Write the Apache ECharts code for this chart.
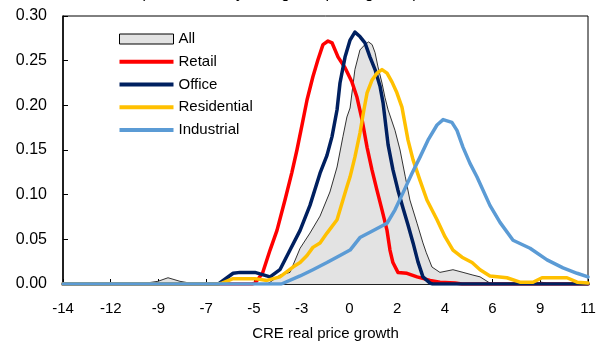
<!DOCTYPE html>
<html>
<head>
<meta charset="utf-8">
<script src="https://cdn.jsdelivr.net/npm/echarts@6/dist/echarts.min.js"></script>
<style>
  html, body { margin: 0; padding: 0; background: #fff; }
  #chart { width: 603px; height: 343px; }
</style>
</head>
<body>
<div id="chart"></div>
<script>
// Kernel density of CRE real price growth, by sector: [growth, density]
const allSectors = [
  [-14, 0], [-10.2, 0], [-10.05, 0.001], [-9.48, 0.003], [-9.0, 0.007], [-8.43, 0.003],
  [-7.95, 0.001], [-7.8, 0], [-4.3, 0], [-4.14, 0.002], [-3.67, 0.010], [-3.19, 0.013],
  [-2.71, 0.040], [-2.24, 0.057], [-1.76, 0.076], [-1.29, 0.103], [-0.95, 0.131],
  [-0.67, 0.165], [-0.48, 0.187], [-0.33, 0.197], [-0.10, 0.240], [0.14, 0.262],
  [0.38, 0.268], [0.55, 0.271], [0.72, 0.268], [0.86, 0.259], [1.0, 0.243], [1.19, 0.225],
  [1.33, 0.209], [1.48, 0.195], [1.81, 0.172], [2.05, 0.150], [2.30, 0.120], [2.52, 0.094],
  [2.86, 0.068], [3.14, 0.046], [3.30, 0.035], [3.57, 0.019], [3.95, 0.013], [4.57, 0.016],
  [5.05, 0.013], [5.52, 0.010], [5.86, 0.008], [6.33, 0.001], [6.5, 0], [8.5, 0],
  [8.8, 0.002], [9.1, 0], [11, 0]
];
const retail = [
  [-14, 0], [-5.0, 0], [-4.86, 0.001], [-4.5, 0.012], [-4.14, 0.038], [-3.81, 0.060],
  [-3.43, 0.094], [-3.1, 0.125], [-2.86, 0.150], [-2.6, 0.180], [-2.38, 0.206],
  [-2.1, 0.232], [-1.86, 0.251], [-1.62, 0.268], [-1.38, 0.272], [-1.19, 0.270],
  [-0.90, 0.254], [-0.57, 0.242], [-0.24, 0.226], [0.0, 0.209], [0.24, 0.184],
  [0.48, 0.153], [0.71, 0.128], [0.95, 0.105], [1.19, 0.083], [1.43, 0.060],
  [1.57, 0.038], [1.71, 0.024], [1.95, 0.013], [2.38, 0.012], [2.86, 0.008],
  [3.48, 0.004], [3.95, 0.002], [4.67, 0.001], [5.0, 0], [11, 0]
];
const office = [
  [-14, 0], [-6.6, 0], [-6.52, 0.001], [-5.9, 0.012], [-5.57, 0.013], [-4.86, 0.013],
  [-4.14, 0.008], [-3.67, 0.016], [-3.19, 0.038], [-2.71, 0.060], [-2.24, 0.088],
  [-1.76, 0.124], [-1.43, 0.144], [-1.19, 0.165], [-0.95, 0.195], [-0.81, 0.225],
  [-0.57, 0.254], [-0.33, 0.273], [-0.10, 0.282], [0.14, 0.277], [0.38, 0.270],
  [0.62, 0.254], [0.86, 0.240], [1.10, 0.221], [1.24, 0.203], [1.48, 0.156],
  [1.71, 0.128], [1.95, 0.105], [2.19, 0.085], [2.43, 0.066], [2.67, 0.046],
  [2.90, 0.025], [3.14, 0.008], [3.48, 0.001], [3.6, 0], [11, 0]
];
const residential = [
  [-14, 0], [-6.6, 0], [-6.43, 0.001], [-5.90, 0.006], [-4.86, 0.006], [-4.29, 0.004],
  [-3.67, 0.008], [-3.05, 0.019], [-2.71, 0.024], [-2.38, 0.032], [-2.10, 0.041],
  [-1.76, 0.046], [-1.43, 0.057], [-0.95, 0.072], [-0.67, 0.094], [-0.48, 0.109],
  [-0.33, 0.120], [-0.10, 0.142], [0.14, 0.169], [0.33, 0.195], [0.48, 0.214],
  [0.71, 0.228], [0.95, 0.236], [1.19, 0.240], [1.43, 0.236], [1.67, 0.226],
  [1.90, 0.214], [2.14, 0.198], [2.43, 0.161], [2.67, 0.139], [3.0, 0.116],
  [3.33, 0.094], [3.81, 0.072], [4.19, 0.053], [4.57, 0.038], [5.0, 0.030],
  [5.48, 0.024], [5.86, 0.016], [6.33, 0.009], [7.14, 0.007], [7.76, 0.002],
  [8.38, 0.002], [8.81, 0.007], [10.0, 0.007], [10.48, 0.002], [11, 0.001]
];
const industrial = [
  [-14, 0], [-3.6, 0], [-3.52, 0.001], [-2.71, 0.009], [-2.10, 0.016], [-1.43, 0.024],
  [-0.81, 0.032], [-0.33, 0.038], [0.14, 0.052], [0.62, 0.058], [1.43, 0.068],
  [1.81, 0.083], [2.19, 0.102], [2.62, 0.124], [3.0, 0.142], [3.38, 0.161],
  [3.81, 0.178], [4.10, 0.184], [4.52, 0.181], [4.76, 0.172], [5.05, 0.153],
  [5.38, 0.135], [5.71, 0.120], [6.33, 0.088], [6.81, 0.069], [7.43, 0.049],
  [8.24, 0.040], [9.05, 0.027], [9.81, 0.018], [10.48, 0.012], [11, 0.008]
];

// Evenly spaced ticks across the growth range, labelled with rounded values
const xMin = -14, xMax = 11;
const xTickLabels = ['-14', '-12', '-9', '-7', '-5', '-3', '0', '2', '4', '6', '9', '11'];
const xTickValues = xTickLabels.map((_, i) => xMin + i * (xMax - xMin) / (xTickLabels.length - 1));

const subtitle = '(kernel density, using real price growth)';
const FONT = "'Liberation Sans', Arial, sans-serif";

const lineIcon = 'path://M0,0H54V4H0Z';
const boxIcon = 'path://M0,0H54V10H0Z';

const chart = echarts.init(document.getElementById('chart'), null, { renderer: 'canvas' });

function lineSeries(name, data, color) {
  return {
    name, type: 'line', data,
    symbol: 'none', smooth: false,
    lineStyle: { color, width: 3.5, join: 'round', cap: 'round' },
    itemStyle: { color },
    emphasis: { disabled: true }
  };
}

chart.setOption({
  animation: false,
  backgroundColor: '#ffffff',
  textStyle: { fontFamily: FONT, color: '#000' },
  graphic: [{
    type: 'text', x: 279, y: 2,
    style: { text: subtitle, textAlign: 'center', textVerticalAlign: 'bottom',
             font: '16px ' + FONT, fill: '#000' }
  }],
  grid: {
    left: 63, right: 15, top: 16, bottom: 59,
    outerBoundsMode: 'none', containLabel: false,
    show: true, borderColor: '#000', borderWidth: 1
  },
  legend: {
    orient: 'vertical', left: 119, top: 30, padding: 0,
    itemWidth: 54, itemHeight: 10, itemGap: 4.75,
    symbolKeepAspect: true,
    selectedMode: false,
    textStyle: { fontFamily: FONT, fontSize: 15, color: '#000', lineHeight: 18 },
    data: [
      { name: 'All', icon: boxIcon, itemStyle: { color: '#e3e3e3', borderColor: '#000', borderWidth: 1 } },
      { name: 'Retail', icon: lineIcon, itemStyle: { borderWidth: 0 } },
      { name: 'Office', icon: lineIcon, itemStyle: { borderWidth: 0 } },
      { name: 'Residential', icon: lineIcon, itemStyle: { borderWidth: 0 } },
      { name: 'Industrial', icon: lineIcon, itemStyle: { borderWidth: 0 } }
    ]
  },
  xAxis: {
    type: 'value', min: xMin, max: xMax,
    name: 'CRE real price growth', nameLocation: 'middle', nameGap: 42,
    nameTextStyle: { fontFamily: FONT, fontSize: 15, color: '#000' },
    axisLine: { show: true, onZero: false, lineStyle: { color: '#000', width: 1.5 } },
    axisTick: { show: true, inside: true, length: 5, customValues: xTickValues,
                lineStyle: { color: '#000', width: 1 } },
    axisLabel: {
      customValues: xTickValues, margin: 17,
      fontFamily: FONT, fontSize: 15, color: '#000',
      formatter: (v) => {
        const i = xTickValues.findIndex(t => Math.abs(t - v) < 1e-6);
        return i >= 0 ? xTickLabels[i] : '';
      }
    },
    splitLine: { show: false }
  },
  yAxis: {
    type: 'value', min: 0, max: 0.3, interval: 0.05,
    axisLine: { show: true, onZero: false, lineStyle: { color: '#000', width: 1.5 } },
    axisTick: { show: true, inside: true, length: 5, lineStyle: { color: '#000' } },
    axisLabel: { margin: 16, fontFamily: FONT, fontSize: 16, color: '#000',
                 formatter: (v) => v.toFixed(2) },
    splitLine: { show: false }
  },
  series: [
    {
      name: 'All', type: 'line', data: allSectors,
      symbol: 'none', smooth: false,
      lineStyle: { color: '#000', width: 0.8 },
      itemStyle: { color: '#e3e3e3' },
      areaStyle: { color: '#e3e3e3', opacity: 1 },
      emphasis: { disabled: true }
    },
    lineSeries('Retail', retail, '#ff0000'),
    lineSeries('Office', office, '#002060'),
    lineSeries('Residential', residential, '#ffc000'),
    lineSeries('Industrial', industrial, '#5b9bd5')
  ]
});
</script>
</body>
</html>
